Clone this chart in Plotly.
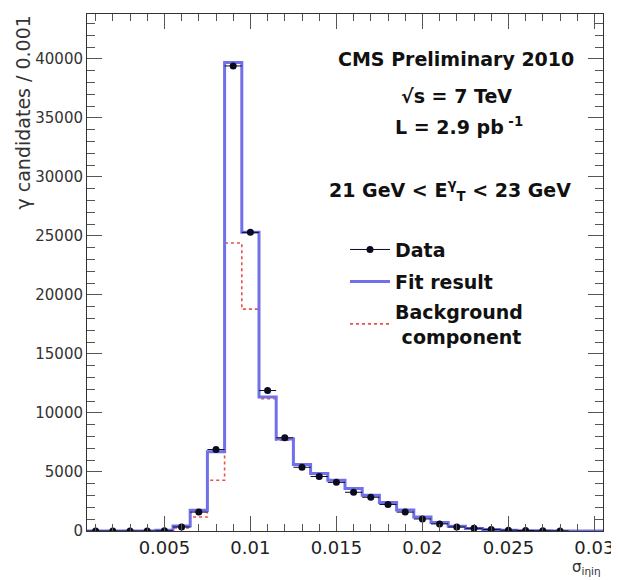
import plotly.graph_objects as go
import numpy as np

# Bin centres (sigma_ietaieta), bin width 0.001
bin_centers = [round(0.001 * i, 3) for i in range(1, 31)]
bin_width = 0.001

data_counts = [0, 0, 0, 0, 20, 340, 1600, 6900, 39400, 25300,
               11900, 7900, 5400, 4620, 4120, 3280, 2860, 2250, 1600, 1020,
               600, 340, 230, 120, 70, 40, 20, 10, None, None]

fit_counts = [0, 0, 0, 0, 60, 420, 1760, 6720, 39700, 25300,
              11350, 7800, 5630, 4870, 4290, 3610, 3030, 2420, 1780, 1180,
              720, 410, 220, 120, 60, 30, 15, 8, 4, 2]

bkg_counts = [0, 0, 0, 0, 30, 250, 1180, 4300, 24400, 18800,
              11200, 7700, 5600, 4850, 4280, 3600, 3020, 2415, 1775, 1178,
              718, 408, 219, 119, 59, 30, 15, 8, 4, 2]

x_ticks = [0.005, 0.01, 0.015, 0.02, 0.025, 0.03]
x_tick_labels = ["0.005", "0.01", "0.015", "0.02", "0.025", "0.03"]
y_ticks = [0, 5000, 10000, 15000, 20000, 25000, 30000, 35000, 40000]
y_tick_labels = [str(v) for v in y_ticks]

FONT = "DejaVu Sans"
BLUE = "#7070ea"
RED = "#e8504a"
DARK = "#0a0a20"


def step_xy(centers, values, width):
    edges = [c - width / 2 for c in centers] + [centers[-1] + width / 2]
    vals = list(values) + [values[-1]]
    return edges, vals


fig = go.Figure()

# Background component (red dotted)
bx, by = step_xy(bin_centers, bkg_counts, bin_width)
fig.add_trace(go.Scatter(x=bx, y=by, mode="lines", line_shape="hv",
                         line=dict(color=RED, width=1.6, dash="dot"),
                         showlegend=False, hoverinfo="skip"))

# Fit result (blue)
fx, fy = step_xy(bin_centers, fit_counts, bin_width)
fig.add_trace(go.Scatter(x=fx, y=fy, mode="lines", line_shape="hv",
                         line=dict(color=BLUE, width=3),
                         showlegend=False, hoverinfo="skip"))

# Data points with error bars
dx = [c for c, v in zip(bin_centers, data_counts) if v is not None]
dy = [v for v in data_counts if v is not None]
fig.add_trace(go.Scatter(
    x=dx, y=dy, mode="markers",
    marker=dict(color=DARK, size=7),
    error_x=dict(type="constant", value=bin_width / 2, width=0, color=DARK, thickness=1),
    error_y=dict(type="data", array=[float(np.sqrt(v)) for v in dy], width=0,
                 color=DARK, thickness=1),
    showlegend=False))

# Legend entries (one legend per row for precise spacing)
fig.add_trace(go.Scatter(x=[None], y=[None], mode="lines+markers", name="<b>Data</b>",
                         line=dict(color=DARK, width=1),
                         marker=dict(color=DARK, size=7), legend="legend"))
fig.add_trace(go.Scatter(x=[None], y=[None], mode="lines", name="<b>Fit result</b>",
                         line=dict(color=BLUE, width=3), legend="legend2"))
fig.add_trace(go.Scatter(x=[None], y=[None], mode="lines",
                         name="<b>Background</b><br><b> component</b>",
                         line=dict(color=RED, width=1.6, dash="dot"), legend="legend3"))

axis_common = dict(showline=True, linecolor="#333", linewidth=1, mirror="ticks",
                   ticks="inside", ticklen=15, tickcolor="#555", tickwidth=1,
                   showgrid=False, zeroline=False)

fig.update_xaxes(range=[0.0005, 0.0305], tickvals=x_ticks, ticktext=x_tick_labels,
                 tickfont=dict(family=FONT, size=18, color="#222"),
                 minor=dict(ticks="inside", ticklen=7, dtick=0.001, tick0=0,
                            tickcolor="#555", showgrid=False),
                 **axis_common)
fig.update_yaxes(range=[0, 43800], tickvals=y_ticks, ticktext=y_tick_labels,
                 tickfont=dict(family=FONT, size=15, color="#333"),
                 minor=dict(ticks="inside", ticklen=8, dtick=1000, tick0=0,
                            tickcolor="#555", showgrid=False),
                 **axis_common)

annotations = [
    dict(text="<b>CMS Preliminary 2010</b>", x=0.716, y=0.913),
    dict(text="<b>√s = 7 TeV</b>", x=0.716, y=0.842),
    dict(text="<b>L = 2.9 pb<sup> -1</sup></b>", x=0.720, y=0.784),
    dict(text="<b>21 GeV < E<sup>γ</sup><sub>T</sub> < 23 GeV</b>", x=0.703, y=0.658),
]
ann = []
for a in annotations:
    ann.append(dict(text=a["text"], x=a["x"], y=a["y"], xref="paper", yref="paper",
                    xanchor="center", yanchor="middle", showarrow=False,
                    font=dict(family=FONT, size=19, color="#111")))
ann.append(dict(text="γ candidates / 0.001", x=-0.125, y=1.0, xref="paper", yref="paper",
                xanchor="center", yanchor="top", textangle=-90, showarrow=False,
                font=dict(family=FONT, size=19, color="#333")))
ann.append(dict(text="σ<sub>iηiη</sub>", x=1.0, y=-0.07, xref="paper", yref="paper",
                xanchor="right", yanchor="middle", showarrow=False,
                font=dict(family=FONT, size=15, color="#333")))

legend_style = dict(xanchor="left", yanchor="top", bgcolor="rgba(0,0,0,0)",
                    font=dict(family=FONT, size=19, color="#111"), itemwidth=40)

# The page body adds an 8px margin, so the figure is sized to fit the 619x580 window.
fig.update_layout(
    width=611, height=572,
    margin=dict(l=79, r=14, t=5, b=49),
    paper_bgcolor="white", plot_bgcolor="white",
    font=dict(family=FONT, color="#111"),
    legend=dict(x=0.50, y=0.581, **legend_style),
    legend2=dict(x=0.50, y=0.519, **legend_style),
    legend3=dict(x=0.50, y=0.461, **legend_style),
    annotations=ann,
)

fig.write_html("out.html")
